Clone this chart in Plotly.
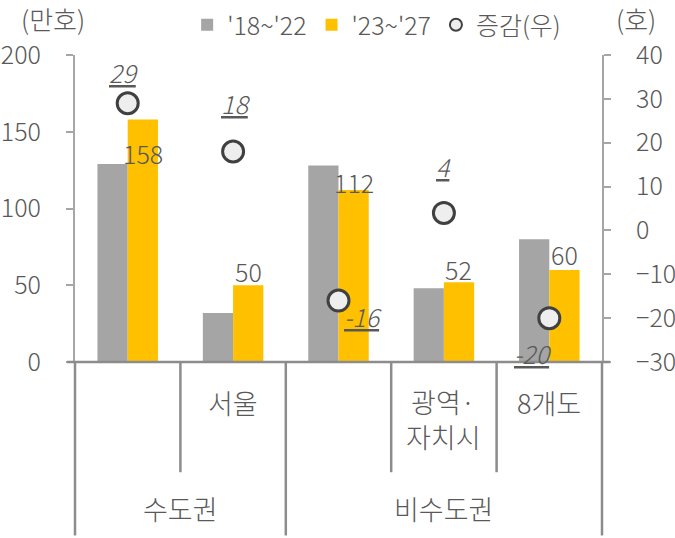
import plotly.graph_objects as go

# ---- data ----
categories = ["수도권", "서울", "비수도권", "광역·자치시", "8개도"]
level1_labels = ["", "서울", "", "광역·<br>자치시", "8개도"]
group_labels = ["수도권", "비수도권"]
group_centers = [0.5, 3.0]          # category-index centre of each group
prev_period = [129, 32, 128, 48, 80]        # '18~'22 (만호)
next_period = [158, 50, 112, 52, 60]        # '23~'27 (만호)
change = [29, 18, -16, 4, -20]              # 증감(우)

# ---- style ----
FONT = "Noto Sans CJK KR"
TXT = "#595959"
GRAY = "#a5a5a5"
GOLD = "#ffc000"
AXC = "#a6a6a6"
DIV = "#8c8c8c"
FS = 25      # numbers
FK = 27      # korean labels
W = 300
# label offsets (pixels) for bar value labels and circle labels
bar_label_dy = [-34, 14, 8, 13, 16]
chg_label_dx = [-4, 2, 24, 0, -16]
chg_label_dy = [31, 48, -15, 47, -35]


def f(size):
    return dict(family=FONT, size=size, color=TXT, weight=W)


fig = go.Figure()
fig.add_trace(go.Bar(x=categories, y=prev_period, name="'18~'22",
                     marker=dict(color=GRAY, line=dict(width=0))))
fig.add_trace(go.Bar(x=categories, y=next_period, name="'23~'27",
                     marker=dict(color=GOLD, line=dict(width=0))))
fig.add_trace(go.Scatter(x=categories, y=change, name="증감(우)", yaxis="y2",
                         mode="markers",
                         marker=dict(size=21, color="#eeeeee",
                                     line=dict(width=3, color="#404040"))))

ann = []
n = len(categories)
# bar value labels ('23~'27)
for i, (c, v) in enumerate(zip(categories, next_period)):
    ann.append(dict(x=c, y=v, xref="x", yref="y", text=str(v), showarrow=False,
                    xanchor="center", xshift=15, yshift=bar_label_dy[i],
                    yanchor="middle", font=f(FS)))
# change labels
for i, (c, v) in enumerate(zip(categories, change)):
    ann.append(dict(x=c, y=v, xref="x", yref="y2", text=f"<i><u>{v}</u></i>",
                    showarrow=False, xanchor="center", xshift=chg_label_dx[i],
                    yshift=chg_label_dy[i], yanchor="middle", font=f(FS)))
# category labels (level 1)
for i, lab in enumerate(level1_labels):
    if lab:
        nl = lab.count("<br>")
        ann.append(dict(x=(i + 0.5) / n, y=0, xref="paper", yref="paper", text=lab,
                        showarrow=False, xanchor="center", yanchor="middle",
                        yshift=-40 - 17 * nl, font=f(FK)))
# group labels (level 2)
for lab, gc in zip(group_labels, group_centers):
    ann.append(dict(x=(gc + 0.5) / n, y=0, xref="paper", yref="paper", text=lab,
                    showarrow=False, xanchor="center", yanchor="middle",
                    yshift=-146, font=f(FK)))
# unit titles
ann.append(dict(x=0, y=1, xref="paper", yref="paper", text="(만호)", showarrow=False,
                xanchor="center", yanchor="middle", xshift=-22, yshift=37, font=f(26)))
ann.append(dict(x=1, y=1, xref="paper", yref="paper", text="(호)", showarrow=False,
                xanchor="center", yanchor="middle", xshift=34, yshift=37, font=f(26)))

shapes = []
short_end = -0.359
long_end = -0.565
for b in [0.5, 2.5, 3.5]:
    shapes.append(dict(type="line", xref="paper", yref="paper",
                       x0=(b + 0.5) / n, x1=(b + 0.5) / n, y0=0, y1=short_end,
                       line=dict(color=DIV, width=2.5)))
for b in [-0.5, 1.5, 4.5]:
    shapes.append(dict(type="line", xref="paper", yref="paper",
                       x0=(b + 0.5) / n, x1=(b + 0.5) / n, y0=0, y1=long_end,
                       line=dict(color=DIV, width=2.5)))
shapes.append(dict(type="line", xref="paper", yref="paper", x0=-0.015, x1=1.015,
                   y0=0, y1=0, line=dict(color=DIV, width=2.5)))

fig.update_layout(
    width=675, height=538,
    margin=dict(l=75, r=73, t=55, b=176, autoexpand=False),
    paper_bgcolor="white", plot_bgcolor="white",
    barmode="group", bargap=0.426, bargroupgap=0,
    font=f(FS),
    showlegend=True,
    legend=dict(orientation="h", xref="container", yref="container",
                x=0.558, xanchor="center", y=0.9535, yanchor="middle",
                font=f(FS), itemwidth=30, itemsizing="constant",
                bgcolor="rgba(0,0,0,0)", tracegroupgap=0),
    xaxis=dict(type="category", range=[-0.5, 4.5], showticklabels=False,
               showline=False, ticks="", showgrid=False, zeroline=False,
               automargin=False),
    yaxis=dict(range=[0, 200], dtick=50, showline=True, linecolor=AXC, linewidth=2,
               ticks="outside", ticklen=7, tickwidth=2, tickcolor=AXC,
               showgrid=False, zeroline=False, ticklabelstandoff=20,
               automargin=False, tickfont=f(FS)),
    yaxis2=dict(range=[-30, 40], dtick=10, overlaying="y", side="right",
                showline=True, linecolor=AXC, linewidth=2,
                ticks="outside", ticklen=7, tickwidth=2, tickcolor=AXC,
                showgrid=False, zeroline=False, ticklabelstandoff=20,
                automargin=False, tickfont=f(FS)),
    annotations=ann,
    shapes=shapes,
)

fig.write_html("out.html", config={"displayModeBar": False},
               post_script="document.body.style.margin='0';document.body.style.padding='0';")
